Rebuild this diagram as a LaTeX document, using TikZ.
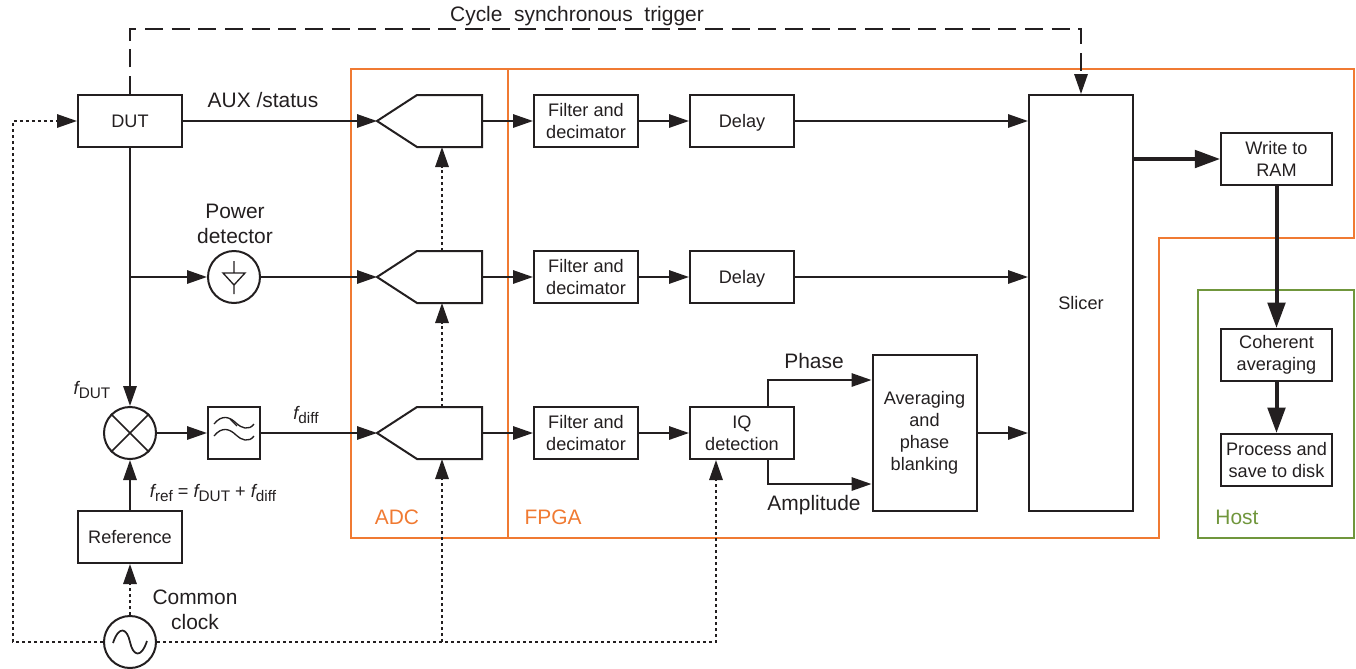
\documentclass[tikz,border=0pt]{standalone}
\usepackage{fontspec}
\setmainfont{Liberation Sans}
\usetikzlibrary{positioning,arrows.meta,shapes,calc}
\definecolor{DarkLine}{RGB}{35,31,32}
\definecolor{AdcOrange}{RGB}{240,122,50}
\definecolor{HostGreen}{RGB}{112,150,60}
\newcommand{\flabel}[1]{{\itshape f}\raisebox{-2.6pt}{\fontsize{11.5}{12}\selectfont #1}}

\begin{document}
\begin{tikzpicture}[
    x=0.75pt, y=-0.75pt,
    color=DarkLine, line width=1.5pt,
    font=\fontsize{13.6}{16.5}\selectfont,
    block/.style={rectangle, draw, minimum width=78pt, minimum height=39pt, align=center, inner sep=0pt},
    oneline/.style={text height=12pt, text depth=3pt},
    round/.style={circle, draw, minimum size=39pt, inner sep=0pt},
    label/.style={font=\fontsize{15.7}{19}\selectfont, align=center, inner sep=0pt},
    flow/.style={-{Triangle[length=15pt,width=10pt]}},
    clockline/.style={flow, dash pattern=on 2.4pt off 2.1pt},
    trigline/.style={flow, dash pattern=on 13.5pt off 6.5pt},
    thickflow/.style={-{Triangle[length=19pt,width=13pt]}, line width=3pt},
    adc/.pic={
        \draw (0,0) -- (40,-26) -- (105,-26) -- (105,26) -- (40,26) -- cycle;
        \coordinate (-in) at (0,0);
        \coordinate (-out) at (105,0);
        \coordinate (-top) at (65,-26);
        \coordinate (-bot) at (65,26);
    },
]
\useasboundingbox (0,0) rectangle (1356,668);

% regions
\draw[AdcOrange] (351,69) rectangle (508,538);
\draw[AdcOrange] (508,69) -- (1354,69) -- (1354,238) -- (1159,238) -- (1159,538) -- (508,538);
\draw[HostGreen] (1198,290) rectangle (1354,538);
\node[label, text=AdcOrange] (adclabel) at (397,517) {ADC};
\node[label, text=AdcOrange] (fpgalabel) at (553,517) {FPGA};
\node[label, text=HostGreen] (hostlabel) at (1237,517) {Host};

% left column
\node[block, oneline] (dut) at (130,121) {DUT};
\node[block, oneline] (reference) at (130,537) {Reference};
\node[round] (mixer) at (130,433) {};
\node[round] (clock) at (130,642) {};
\node[round] (detector) at (234,277) {};
\node[block, minimum width=39pt] (lowpass) at (234,433) {};
\draw[line width=1.2pt] (mixer.45) -- (mixer.225) (mixer.135) -- (mixer.315);
\draw[line width=1.3pt] ($(clock)+(-17,1)$) .. controls ($(clock)+(-11,-17)$) and ($(clock)+(-3,-14)$) .. ($(clock)$) .. controls ($(clock)+(3,14)$) and ($(clock)+(11,17)$) .. ($(clock)+(17,-1)$);
\draw[line width=1pt] (234,261) -- (234,273) (223,273) -- (245,273) -- (234,285) -- cycle (234,285) -- (234,294);
\draw[line width=1pt] (214,424) .. controls (222,414) and (230,417) .. (236,423) .. controls (241,428) and (249,431) .. (254,424);
\draw[line width=1pt] (214,436) .. controls (222,426) and (230,429) .. (236,435) .. controls (241,440) and (249,443) .. (254,436);
\draw[line width=1pt] (230,419) -- (237,426);

% converters
\pic (adcA) at (377,121) {adc};
\pic (adcB) at (377,277) {adc};
\pic (adcC) at (377,433) {adc};

% fpga blocks
\node[block] (filterA) at (586,121) {Filter and\\decimator};
\node[block] (filterB) at (586,277) {Filter and\\decimator};
\node[block] (filterC) at (586,433) {Filter and\\decimator};
\node[block, oneline] (delayA) at (742,121) {Delay};
\node[block, oneline] (delayB) at (742,277) {Delay};
\node[block] (iq) at (742,433) {IQ\\detection};
\node[block, minimum height=117pt] (averaging) at (924.5,433) {Averaging\\and\\phase\\blanking};
\node[block, oneline, minimum height=312pt] (slicer) at (1081,303) {Slicer};

% host blocks
\node[block, minimum width=83pt] (ram) at (1276.5,159) {Write to\\RAM};
\node[block, minimum width=83pt] (coherent) at (1276.5,355) {Coherent\\averaging};
\node[block, minimum width=83pt] (process) at (1276.5,460) {Process and\\save to disk};

% labels
\node[label] (triglabel) at (577,16) {Cycle\ \ synchronous\ \ trigger};
\node[label] (auxlabel) at (263,100) {AUX /status};
\node[label] (powerlabel) at (235,224) {Power\\detector};
\node[label] (phaselabel) at (814,361) {Phase};
\node[label] (amplabel) at (814,505) {Amplitude};
\node[label] (clocklabel) at (195,610) {Common\\clock};
\node[label, font=\fontsize{13.6}{16}\selectfont] (fdutlabel) at (92,390) {\flabel{DUT}};
\node[label, font=\fontsize{13.6}{16}\selectfont] (fdifflabel) at (306,415) {\flabel{diff}};
\node[label, font=\fontsize{13.6}{16}\selectfont] (freflabel) at (213,493) {\flabel{ref} = \flabel{DUT} + \flabel{diff}};

% signal paths
\draw[flow] (dut) -- (adcA-in);
\draw[flow] (dut) -- (mixer);
\draw[flow] (130,277) -- (detector);
\draw[flow] (detector) -- (adcB-in);
\draw[flow] (mixer) -- (lowpass);
\draw[flow] (lowpass) -- (adcC-in);
\draw[flow] (reference) -- (mixer);
\draw[flow] (adcA-out) -- (filterA);
\draw[flow] (adcB-out) -- (filterB);
\draw[flow] (adcC-out) -- (filterC);
\draw[flow] (filterA) -- (delayA);
\draw[flow] (filterB) -- (delayB);
\draw[flow] (filterC) -- (iq);
\draw[flow] (delayA) -- (slicer.west |- delayA);
\draw[flow] (delayB) -- (slicer.west |- delayB);
\draw[flow] (768,408) |- (averaging.west |- 0,380);
\draw[flow] (768,460) |- (averaging.west |- 0,484);
\draw[flow] (averaging) -- (slicer.west |- averaging);

% host paths
\draw[thickflow] (slicer.east |- ram) -- (ram);
\draw[thickflow] (ram) -- (coherent);
\draw[thickflow] (coherent) -- (process);

% trigger and clock
\draw[trigline] (dut) |- (1081,29) -- (slicer.north);
\draw[clockline] (clock) -- (13,642) |- (dut);
\draw[clockline] (clock) -- (reference);
\draw[clockline] (clock) -| (iq.south -| 716,0);
\coordinate (clocktap) at (442,642);
\draw[clockline] (clocktap) -- (adcC-bot);
\draw[clockline] (adcC-top) -- (adcB-bot);
\draw[clockline] (adcB-top) -- (adcA-bot);
\end{tikzpicture}
\end{document}
